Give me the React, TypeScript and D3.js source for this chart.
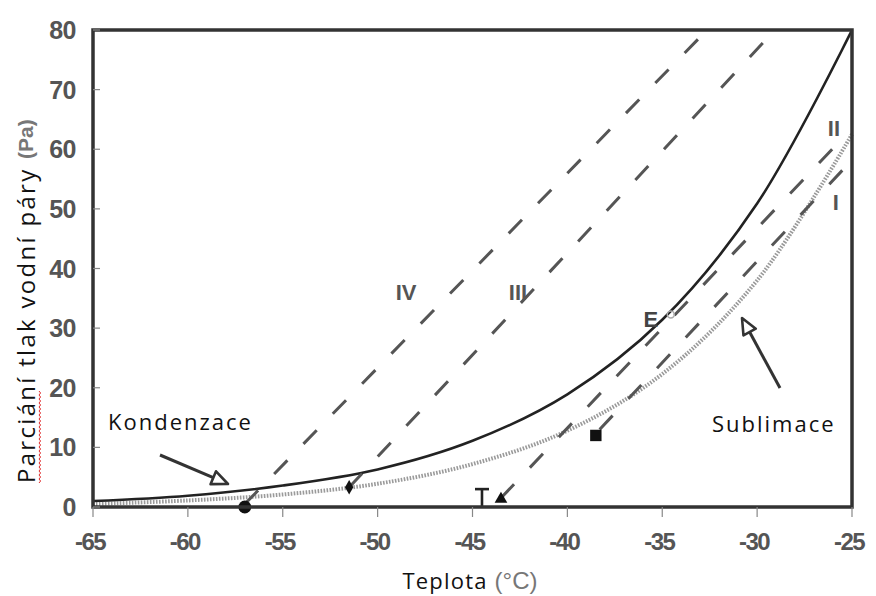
import React from 'react';
import * as d3 from 'd3';

// ---- data ----
const temps = [-65, -60, -55, -50, -45, -40, -35, -30, -25];
const waterP = [1.0, 1.9, 3.6, 6.3, 11.1, 18.9, 31.4, 50.9, 80.0];
const iceP = [0.5, 1.1, 2.1, 3.9, 7.2, 12.8, 22.3, 38.0, 62.5];

const xTicks = [-65, -60, -55, -50, -45, -40, -35, -30, -25];
const yTicks = [0, 10, 20, 30, 40, 50, 60, 70, 80];

const lineNames = ['IV', 'III', 'II', 'I'];
const lineStartT = [-57, -51.5, -43.5, -38.3];
const lineStartP = [0.5, 3.3, 1.5, 13];
const lineEndT = [-33.1, -29.5, -25.6, -25.5];
const lineEndP = [78.5, 78.5, 61.5, 56.5];
const lineLabelT = [-48.5, -42.6, -25.95, -25.85];
const lineLabelP = [36, 36, 63.5, 51];

const markerShapes = ['circle', 'diamond', 'triangle', 'square'];
const markerT = [-57, -51.5, -43.5, -38.5];
const markerP = [0, 3.3, 1.5, 12];

const W = 876;
const H = 596;

export default function App() {
  const x = d3.scaleLinear().domain([-65, -25]).range([93, 852]);
  const y = d3.scaleLinear().domain([0, 80]).range([507, 30]);

  const curve = d3
    .line<[number, number]>()
    .x((d) => x(d[0]))
    .y((d) => y(d[1]))
    .curve(d3.curveCatmullRom.alpha(0.5));

  const waterPath = curve(temps.map((t, i) => [t, waterP[i]]) as [number, number][]) || '';
  const icePath = curve(temps.map((t, i) => [t, iceP[i]]) as [number, number][]) || '';

  const symbolPath = (shape: string, size: number) => {
    const s =
      shape === 'circle'
        ? d3.symbolCircle
        : shape === 'diamond'
        ? d3.symbolDiamond
        : shape === 'triangle'
        ? d3.symbolTriangle
        : d3.symbolSquare;
    return d3.symbol().type(s).size(size)() || '';
  };
  const markerSizes: Record<string, number> = { circle: 130, diamond: 60, triangle: 70, square: 130 };

  const tickFont = '"Liberation Sans", Arial, sans-serif';
  const textFont = '"Open Sans", "Noto Sans", sans-serif';

  // arrow helper: open triangle head
  const arrow = (x1: number, y1: number, x2: number, y2: number) => {
    const ang = Math.atan2(y2 - y1, x2 - x1);
    const L = 16;
    const hw = 7;
    const bx = x2 - L * Math.cos(ang);
    const by = y2 - L * Math.sin(ang);
    const px = -Math.sin(ang) * hw;
    const py = Math.cos(ang) * hw;
    return (
      <g>
        <line x1={x1} y1={y1} x2={bx} y2={by} stroke="#333" strokeWidth={3} />
        <path
          d={`M${x2},${y2}L${bx + px},${by + py}L${bx - px},${by - py}Z`}
          fill="#fff"
          stroke="#333"
          strokeWidth={2.6}
          strokeLinejoin="round"
        />
      </g>
    );
  };

  // wavy spellcheck underline
  const squiggle = () => {
    const pts: string[] = [];
    const x0 = 39;
    for (let yy = 483, k = 0; yy >= 390; yy -= 2, k++) {
      pts.push(`${k === 0 ? 'M' : 'L'}${x0 + (k % 2 === 0 ? 0 : 1.6)},${yy}`);
    }
    return <path d={pts.join('')} fill="none" stroke="#e03030" strokeWidth={1} />;
  };

  return (
    <svg
      width={W}
      height={H}
      style={{ position: 'absolute', left: 0, top: 0, background: '#fff' }}
    >
      <rect x={0} y={0} width={W} height={H} fill="#fff" />

      {/* ice curve (dotted) */}
      <path d={icePath} fill="none" stroke="#9a9a9a" strokeWidth={4} strokeDasharray="1.6,1.4" />
      {/* water curve */}
      <path d={waterPath} fill="none" stroke="#222" strokeWidth={2.6} />

      {/* dashed lines */}
      {lineNames.map((n, i) => (
        <g key={n}>
          <line
            x1={x(lineStartT[i])}
            y1={y(lineStartP[i])}
            x2={x(lineEndT[i])}
            y2={y(lineEndP[i])}
            stroke="#555"
            strokeWidth={3}
            strokeDasharray="19,23"
          />
          <text
            x={x(lineLabelT[i])}
            y={y(lineLabelP[i])}
            textAnchor="middle"
            dominantBaseline="central"
            fontFamily={tickFont}
            fontWeight="bold"
            fontSize={22}
            fill="#555"
          >
            {n}
          </text>
        </g>
      ))}

      {/* markers */}
      {markerShapes.map((s, i) => (
        <path
          key={s}
          transform={`translate(${x(markerT[i])},${y(markerP[i])})${s === 'triangle' ? ' translate(0,1)' : ''}`}
          d={symbolPath(s, markerSizes[s])}
          fill="#111"
        />
      ))}

      {/* T marker */}
      <g stroke="#222" strokeWidth={2.6}>
        <line x1={x(-44.5)} y1={y(0)} x2={x(-44.5)} y2={y(3)} />
        <line x1={x(-44.5) - 7} y1={y(3)} x2={x(-44.5) + 7} y2={y(3)} />
      </g>

      {/* E label */}
      <text x={x(-35.6)} y={y(31.5)} textAnchor="middle" dominantBaseline="central" fontFamily={tickFont} fontWeight="bold" fontSize={22} fill="#444">
        E
      </text>
      <circle cx={x(-34.55)} cy={y(32.3)} r={3.5} fill="none" stroke="#aaa" strokeWidth={1.5} />

      {/* frame */}
      <rect x={93} y={30} width={759} height={477} fill="none" stroke="#333" strokeWidth={3.5} />

      {/* y ticks (inside) */}
      {yTicks.map((t) => (
        <g key={t}>
          <line x1={93} x2={100} y1={y(t)} y2={y(t)} stroke="#888" strokeWidth={1.2} />
          <text
            x={76}
            y={y(t)}
            textAnchor="end"
            dominantBaseline="central"
            fontFamily={tickFont}
            fontWeight="bold"
            fontSize={25}
            letterSpacing={-0.5}
            fill="#555"
          >
            {t}
          </text>
        </g>
      ))}

      {/* x ticks (outside) */}
      {xTicks.map((t) => (
        <g key={t}>
          <line x1={x(t)} x2={x(t)} y1={507} y2={517} stroke="#888" strokeWidth={1.2} />
          <text
            x={x(t) - 3}
            y={541}
            textAnchor="middle"
            dominantBaseline="central"
            fontFamily={tickFont}
            fontWeight="bold"
            fontSize={24}
            letterSpacing={-1.5}
            fill="#555"
          >
            {t}
          </text>
        </g>
      ))}

      {/* x title */}
      <text x={470} y={580} textAnchor="middle" dominantBaseline="central">
        <tspan fontFamily={textFont} fontSize={22} letterSpacing={1.2} fill="#111">Teplota </tspan>
        <tspan fontFamily={tickFont} fontSize={24} fill="#777">(°C)</tspan>
      </text>

      {/* y title */}
      <text
        transform="translate(25,483) rotate(-90)"
        textAnchor="start"
        dominantBaseline="central"
      >
        <tspan fontFamily={textFont} fontSize={24} letterSpacing={2.3} fill="#111">Parciání tlak vodní páry </tspan>
        <tspan fontFamily={tickFont} fontWeight="bold" fill="#777" fontSize={21}>(Pa)</tspan>
      </text>
      {squiggle()}

      {/* annotations */}
      <text x={108} y={421} fontFamily={textFont} fontSize={22} letterSpacing={2} fill="#111" dominantBaseline="central">
        Kondenzace
      </text>
      {arrow(160, 455, 228, 484)}

      <text x={712} y={423} fontFamily={textFont} fontSize={22} letterSpacing={2} fill="#111" dominantBaseline="central">
        Sublimace
      </text>
      {arrow(780, 388, 742, 318)}
    </svg>
  );
}
